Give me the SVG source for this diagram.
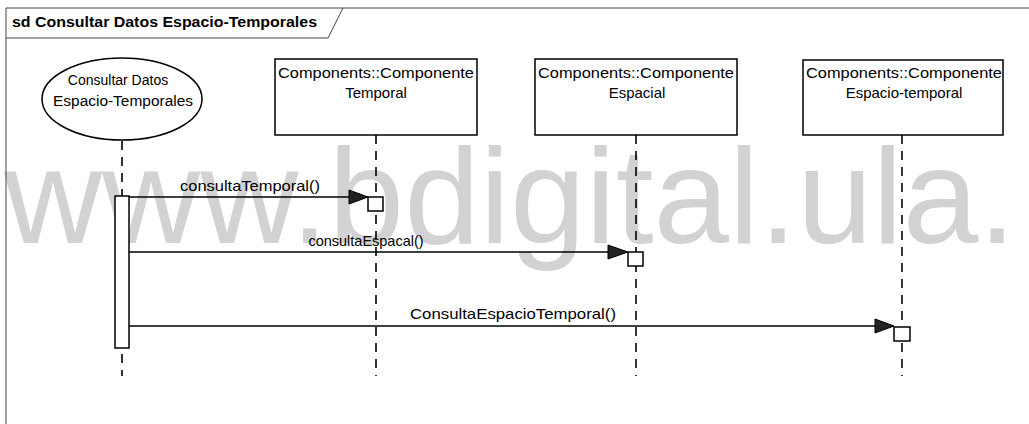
<svg xmlns="http://www.w3.org/2000/svg" width="1029" height="424" viewBox="0 0 1029 424">
<style>
text{font-family:"Liberation Sans",Arial,sans-serif;fill:#000}
.lbl{font-size:15px}
.box{fill:#fff;stroke:#000;stroke-width:1.5}
.life{stroke:#000;stroke-width:1.6;stroke-dasharray:9 7;fill:none}
.msg{stroke:#000;stroke-width:1.6;fill:none}
.act{fill:#fff;stroke:#000;stroke-width:1.5}
.head{fill:#222;stroke:#000;stroke-width:1}
</style>
<rect width="1029" height="424" fill="#fff"/>
<text x="4" y="243" font-size="136" style="fill:#d2d2d2" textLength="1012" lengthAdjust="spacingAndGlyphs">www.bdigital.ula.</text>
<g id="frame">
<path d="M6 424 V8 H1029" fill="none" stroke="#444" stroke-width="1"/>
<path d="M6 38 H328 L343 8" fill="none" stroke="#444" stroke-width="1"/>
<text x="12" y="27" font-size="14" font-weight="bold" textLength="305" lengthAdjust="spacingAndGlyphs">sd Consultar Datos Espacio-Temporales</text>
</g>
<g id="actor">
<ellipse cx="122" cy="99" rx="80" ry="41" class="box"/>
<text x="118" y="85" font-size="14" text-anchor="middle">Consultar Datos</text>
<text x="123" y="106" font-size="14" text-anchor="middle" textLength="140" lengthAdjust="spacingAndGlyphs">Espacio-Temporales</text>
</g>
<g id="temporal">
<rect x="275" y="59" width="202" height="76" class="box"/>
<text x="376" y="78" class="lbl" text-anchor="middle" textLength="196" lengthAdjust="spacingAndGlyphs">Components::Componente</text>
<text x="376" y="98" class="lbl" text-anchor="middle">Temporal</text>
</g>
<g id="espacial">
<rect x="535" y="59" width="202" height="76" class="box"/>
<text x="636" y="78" class="lbl" text-anchor="middle" textLength="196" lengthAdjust="spacingAndGlyphs">Components::Componente</text>
<text x="637" y="98" class="lbl" text-anchor="middle">Espacial</text>
</g>
<g id="espaciotemporal">
<rect x="803" y="60" width="200" height="75" class="box"/>
<text x="904" y="78" class="lbl" text-anchor="middle" textLength="196" lengthAdjust="spacingAndGlyphs">Components::Componente</text>
<text x="904" y="98" class="lbl" text-anchor="middle">Espacio-temporal</text>
</g>
<g id="connectors">
<line x1="122" y1="141" x2="122" y2="196" class="life"/>
<line x1="122" y1="354" x2="122" y2="376" class="life"/>
<line x1="376" y1="135" x2="376" y2="376" class="life"/>
<line x1="636" y1="135" x2="636" y2="376" class="life"/>
<line x1="902" y1="135" x2="902" y2="376" class="life"/>
<rect x="115" y="196" width="14" height="152" class="act"/>
<line x1="129" y1="197" x2="350" y2="197" class="msg"/>
<polygon points="349,190 368,197 349,204" class="head"/>
<rect x="368" y="197" width="15" height="14" class="act"/>
<text x="250" y="191" class="lbl" text-anchor="middle" textLength="140" lengthAdjust="spacingAndGlyphs">consultaTemporal()</text>
<line x1="129" y1="252" x2="610" y2="252" class="msg"/>
<polygon points="608,245 628,252 608,259" class="head"/>
<rect x="628" y="252" width="15" height="14" class="act"/>
<text x="366" y="246" font-size="14.5" text-anchor="middle">consultaEspacal()</text>
<line x1="129" y1="326" x2="876" y2="326" class="msg"/>
<polygon points="875,319 894,326 875,333" class="head"/>
<rect x="894" y="327" width="16" height="14" class="act"/>
<text x="513" y="319" class="lbl" text-anchor="middle" textLength="206" lengthAdjust="spacingAndGlyphs">ConsultaEspacioTemporal()</text>
</g>
</svg>
